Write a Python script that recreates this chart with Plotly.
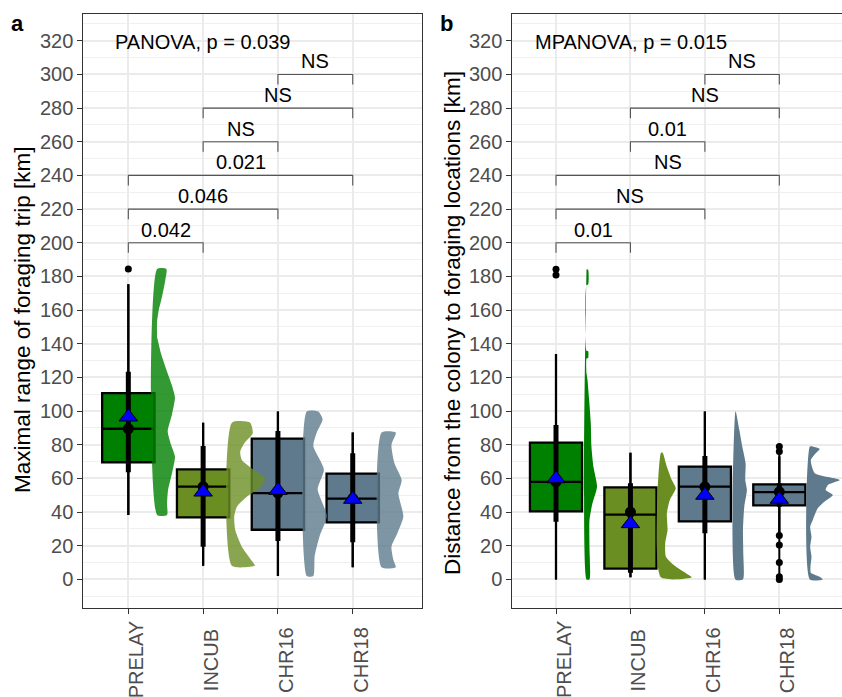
import plotly.graph_objects as go

W, H = 842, 697
FONT = "Liberation Sans, Arial, sans-serif"

groups = ["PRELAY", "INCUB", "CHR16", "CHR18"]
xpos = [1, 2, 3, 4]
box_colors = ["#008000", "#6B8E23", "#5E7A8C", "#5E7A8C"]
violin_rgb = [(0, 128, 0), (107, 142, 35), (94, 122, 140), (94, 122, 140)]

# ---------------- Panel a : maximal range of foraging trip ----------------
a_q1 = [69.6, 36.9, 29.5, 33.9]
a_med = [89.5, 55.1, 51.2, 48.0]
a_q3 = [110.6, 65.4, 83.6, 62.8]
a_wlo = [38.3, 8.1, 2.0, 7.2]
a_whi = [175.3, 93.1, 99.7, 87.2]
a_i95_lo = [38.3, 8.1, 2.0, 7.2]
a_i95_hi = [175.3, 93.1, 99.7, 87.2]
a_i66_lo = [63.6, 19.4, 22.8, 22.0]
a_i66_hi = [123.4, 79.3, 88.2, 74.9]
a_point = [89.5, 55.1, 51.2, 48.0]
a_mean = [96.5, 51.9, 52.9, 47.6]
a_out_group = ["PRELAY"]
a_out_val = [184.4]

a_dens_PRELAY_y = [38.3, 45, 53, 63, 73, 80, 88, 98, 108, 115, 124.5, 134, 143, 143.5, 154, 155, 160, 168, 178, 184.4]
a_dens_PRELAY_d = [0.30, 0.30, 0.33, 0.45, 0.54, 0.42, 0.32, 0.45, 0.54, 0.45, 0.28, 0.12, 0.01, 0, 0, 0.01, 0.05, 0.15, 0.25, 0.28]
a_dens_INCUB_y = [8.1, 8.6, 13.5, 19.4, 29.3, 37.3, 43.2, 49.1, 55.1, 60.0, 65.0, 70.9, 75.9, 80.8, 86.8, 93.1]
a_dens_INCUB_d = [0.69, 0.69, 0.51, 0.30, 0.10, 0.07, 0.15, 0.45, 0.88, 1.0, 0.66, 0.30, 0.25, 0.37, 0.63, 0.55]
a_dens_CHR16_y = [2.0, 13.9, 25.7, 37.6, 53.5, 65.3, 79.2, 87.1, 95.0, 99.7]
a_dens_CHR16_d = [0.20, 0.24, 0.39, 0.61, 0.33, 0.52, 0.20, 0.30, 0.48, 0.35]
a_dens_CHR18_y = [7.2, 11.5, 19.4, 27.4, 37.3, 51.2, 59.1, 69.0, 79.9, 87.2]
a_dens_CHR18_d = [0.43, 0.36, 0.30, 0.48, 0.66, 0.51, 0.61, 0.39, 0.30, 0.43]

a_cmp_from = ["PRELAY", "PRELAY", "PRELAY", "INCUB", "INCUB", "CHR16"]
a_cmp_to = ["INCUB", "CHR16", "CHR18", "CHR16", "CHR18", "CHR18"]
a_cmp_y = [200, 220, 240, 260, 280, 300]
a_cmp_label = ["0.042", "0.046", "0.021", "NS", "NS", "NS"]
a_test = "PANOVA, p = 0.039"
a_title = "Maximal range of foraging trip [km]"

# ---------------- Panel b : distance colony -> foraging locations ----------------
b_q1 = [40.4, 6.4, 34.5, 44.0]
b_med = [57.9, 38.5, 55.1, 51.9]
b_q3 = [81.2, 54.7, 67.0, 56.5]
b_wlo = [0.0, 1.2, 0.0, 27.0]
b_whi = [133.9, 75.3, 99.7, 73.0]
b_i95_lo = [0.0, 1.2, 0.0, 0.0]
b_i95_hi = [133.9, 75.3, 99.7, 78.0]
b_i66_lo = [34.3, 4.0, 27.4, 43.2]
b_i66_hi = [91.7, 57.1, 73.3, 57.1]
b_point = [57.9, 40.0, 55.0, 52.0]
b_mean = [59.8, 33.1, 50.0, 47.6]
b_out_group = ["PRELAY", "PRELAY", "CHR18", "CHR18", "CHR18", "CHR18", "CHR18", "CHR18", "CHR18"]
b_out_val = [184.2, 180.8, 79.0, 76.0, 26.0, 20.5, 10.0, 1.5, 0.0]

b_dens_PRELAY_y = [0, 19.4, 35.3, 45.2, 55.1, 66.9, 78.8, 92.7, 106.6, 118.4, 122.4, 131.3, 131.6, 135.6, 135.9, 174.9, 175.2, 183.9, 184.2]
b_dens_PRELAY_d = [0.09, 0.09, 0.09, 0.18, 0.32, 0.21, 0.15, 0.13, 0.08, 0.03, 0, 0, 0.05, 0.05, 0, 0, 0.05, 0.05, 0]
b_dens_INCUB_y = [1.2, 3.7, 7.6, 13.5, 21.4, 29.3, 39.3, 47.2, 54.1, 59.0, 66.9, 75.3]
b_dens_INCUB_d = [0.94, 0.76, 0.45, 0.15, 0.13, 0.20, 0.18, 0.27, 0.45, 0.33, 0.18, 0.05]
b_dens_CHR16_y = [0, 15.5, 29.3, 43.2, 53.1, 59.0, 69.0, 78.8, 88.7, 99.7]
b_dens_CHR16_d = [0.23, 0.24, 0.23, 0.27, 0.35, 0.30, 0.31, 0.21, 0.12, 0.01]
b_dens_CHR18_y = [0, 1.6, 4, 7.5, 13.5, 19.4, 25.4, 31.3, 35.3, 42.2, 46.2, 50.1, 53.1, 56.1, 59.0, 63.0, 70.9, 74.9, 77.5, 79.0]
b_dens_CHR18_d = [0.39, 0.30, 0.03, 0.02, 0.05, 0.01, 0.05, 0.01, 0.09, 0.24, 0.45, 0.70, 0.48, 0.55, 0.91, 0.15, 0.03, 0.18, 0.30, 0.09]

b_cmp_from = ["PRELAY", "PRELAY", "PRELAY", "INCUB", "INCUB", "CHR16"]
b_cmp_to = ["INCUB", "CHR16", "CHR18", "CHR16", "CHR18", "CHR18"]
b_cmp_y = [200, 220, 240, 260, 280, 300]
b_cmp_label = ["0.01", "NS", "NS", "0.01", "NS", "NS"]
b_test = "MPANOVA, p = 0.015"
b_title = "Distance from the colony to foraging locations [km]"

y_ticks = list(range(0, 321, 20))
y_minor = list(range(-10, 331, 20))

# ---------------- figure ----------------
fig = go.Figure()
gx = {g: x for g, x in zip(groups, xpos)}


def add_panel(xa, ya, q1, med, q3, wlo, whi, i95lo, i95hi, i66lo, i66hi, point, mean,
              out_g, out_v, dens, vio_off, vio_alpha, cmp_from, cmp_to, cmp_y, cmp_label):
    # boxes
    for i, g in enumerate(groups):
        fig.add_trace(go.Box(
            x=[xpos[i]], q1=[q1[i]], median=[med[i]], q3=[q3[i]],
            lowerfence=[wlo[i]], upperfence=[whi[i]], width=0.7,
            fillcolor=box_colors[i], line=dict(color="black", width=2.3),
            whiskerwidth=0, boxpoints=False, hoverinfo="skip",
            xaxis=xa, yaxis=ya))
    # half violins
    scale = 0.442
    for i, g in enumerate(groups):
        ys, ds = dens[g]
        x0 = xpos[i] + vio_off
        px = [x0, x0] + [x0 + d * scale for d in ds] + [x0]
        py = [ys[-1], ys[0]] + list(ys) + [ys[-1]]
        r, gg, b = violin_rgb[i]
        fig.add_trace(go.Scatter(
            x=px, y=py, mode="lines", fill="toself",
            fillcolor=f"rgba({r},{gg},{b},{vio_alpha})",
            line=dict(width=0, shape="spline", smoothing=0.6),
            hoverinfo="skip", xaxis=xa, yaxis=ya))
    # intervals
    for i, g in enumerate(groups):
        fig.add_trace(go.Scatter(x=[xpos[i], xpos[i]], y=[i95lo[i], i95hi[i]], mode="lines",
                                 line=dict(color="black", width=2), hoverinfo="skip",
                                 xaxis=xa, yaxis=ya))
        fig.add_trace(go.Scatter(x=[xpos[i], xpos[i]], y=[i66lo[i], i66hi[i]], mode="lines",
                                 line=dict(color="black", width=5), hoverinfo="skip",
                                 xaxis=xa, yaxis=ya))
    fig.add_trace(go.Scatter(x=xpos, y=point, mode="markers",
                             marker=dict(color="black", size=11), hoverinfo="skip",
                             xaxis=xa, yaxis=ya))
    # outliers
    fig.add_trace(go.Scatter(x=[gx[g] for g in out_g], y=out_v, mode="markers",
                             marker=dict(color="black", size=7), hoverinfo="skip",
                             xaxis=xa, yaxis=ya))
    # means
    fig.add_trace(go.Scatter(x=xpos, y=mean, mode="markers",
                             marker=dict(symbol="triangle-up", color="#0000FF", size=16,
                                         line=dict(color="black", width=1)),
                             hoverinfo="skip", xaxis=xa, yaxis=ya))
    # brackets
    tip = 6
    for f, t, yv, lab in zip(cmp_from, cmp_to, cmp_y, cmp_label):
        x1, x2 = gx[f], gx[t]
        fig.add_trace(go.Scatter(x=[x1, x1, x2, x2], y=[yv - tip, yv, yv, yv - tip],
                                 mode="lines", line=dict(color="#555555", width=1.1),
                                 hoverinfo="skip", xaxis=xa, yaxis=ya))
        fig.add_annotation(x=(x1 + x2) / 2, y=yv, xref=xa, yref=ya, text=lab,
                           showarrow=False, xanchor="center", yanchor="bottom",
                           font=dict(size=20, color="black", family=FONT))


add_panel("x", "y", a_q1, a_med, a_q3, a_wlo, a_whi, a_i95_lo, a_i95_hi, a_i66_lo, a_i66_hi,
          a_point, a_mean, a_out_group, a_out_val,
          {"PRELAY": (a_dens_PRELAY_y, a_dens_PRELAY_d), "INCUB": (a_dens_INCUB_y, a_dens_INCUB_d),
           "CHR16": (a_dens_CHR16_y, a_dens_CHR16_d), "CHR18": (a_dens_CHR18_y, a_dens_CHR18_d)},
          0.385, 0.8, a_cmp_from, a_cmp_to, a_cmp_y, a_cmp_label)
add_panel("x2", "y2", b_q1, b_med, b_q3, b_wlo, b_whi, b_i95_lo, b_i95_hi, b_i66_lo, b_i66_hi,
          b_point, b_mean, b_out_group, b_out_val,
          {"PRELAY": (b_dens_PRELAY_y, b_dens_PRELAY_d), "INCUB": (b_dens_INCUB_y, b_dens_INCUB_d),
           "CHR16": (b_dens_CHR16_y, b_dens_CHR16_d), "CHR18": (b_dens_CHR18_y, b_dens_CHR18_d)},
          0.41, 1.0, b_cmp_from, b_cmp_to, b_cmp_y, b_cmp_label)

grid = "#EBEBEB"
axcol = "#333333"
common_x = dict(tickvals=xpos, showticklabels=False, ticks="outside", ticklen=5,
                tickcolor=axcol, showgrid=True, gridcolor=grid, gridwidth=1.5,
                showline=True, linecolor=axcol, linewidth=1, mirror=True, zeroline=False)
common_y = dict(tickvals=y_ticks, range=[-17.0, 335.9], ticks="outside", ticklen=5,
                tickcolor=axcol, tickfont=dict(size=20, color="#4D4D4D", family=FONT),
                showgrid=True, gridcolor=grid, gridwidth=1.5,
                minor=dict(tickvals=y_minor, showgrid=True, gridcolor="#F0F0F0", gridwidth=0.8, ticks=""),
                showline=True, linecolor=axcol, linewidth=1, zeroline=False)

ydom = [1 - 608 / H, 1 - 14 / H]
fig.update_layout(
    width=W, height=H, margin=dict(l=0, r=0, t=0, b=0),
    paper_bgcolor="white", plot_bgcolor="white", showlegend=False,
    font=dict(family=FONT),
    xaxis=dict(domain=[83.3 / W, 421.7 / W], range=[0.398, 4.922], anchor="y", **common_x),
    yaxis=dict(domain=ydom, anchor="x", mirror=True, **common_y),
    xaxis2=dict(domain=[512.3 / W, 1.0], range=[0.413, 4.842], anchor="y2", **common_x),
    yaxis2=dict(domain=ydom, anchor="x2", mirror=False, **common_y),
)

# x tick labels (rotated, centred)
for xa in ("x", "x2"):
    for i, g in enumerate(groups):
        fig.add_annotation(x=xpos[i], y=1 - 660 / H, xref=xa, yref="paper", text=g,
                           textangle=-90, showarrow=False, xanchor="center", yanchor="middle",
                           xshift=8, font=dict(size=20, color="#4D4D4D", family=FONT))

# test annotations
fig.add_annotation(x=0.80, y=319.5, xref="x", yref="y", text=a_test, showarrow=False,
                   xanchor="left", yanchor="middle", font=dict(size=20, color="black", family=FONT))
fig.add_annotation(x=0.685, y=319.5, xref="x2", yref="y2", text=b_test, showarrow=False,
                   xanchor="left", yanchor="middle", font=dict(size=20, color="black", family=FONT))

# axis titles
fig.add_annotation(x=22 / W, y=1 - 320 / H, xref="paper", yref="paper", text=a_title,
                   textangle=-90, showarrow=False, xanchor="center", yanchor="middle",
                   font=dict(size=22.5, color="black", family=FONT))
fig.add_annotation(x=452 / W, y=1 - 323 / H, xref="paper", yref="paper", text=b_title,
                   textangle=-90, showarrow=False, xanchor="center", yanchor="middle",
                   font=dict(size=22.5, color="black", family=FONT))

# panel tags
fig.add_annotation(x=17.5 / W, y=1 - 24 / H, xref="paper", yref="paper", text="<b>a</b>",
                   showarrow=False, xanchor="center", yanchor="middle",
                   font=dict(size=22, color="black", family=FONT))
fig.add_annotation(x=446.5 / W, y=1 - 24 / H, xref="paper", yref="paper", text="<b>b</b>",
                   showarrow=False, xanchor="center", yanchor="middle",
                   font=dict(size=22, color="black", family=FONT))

fig.write_html("out.html")
